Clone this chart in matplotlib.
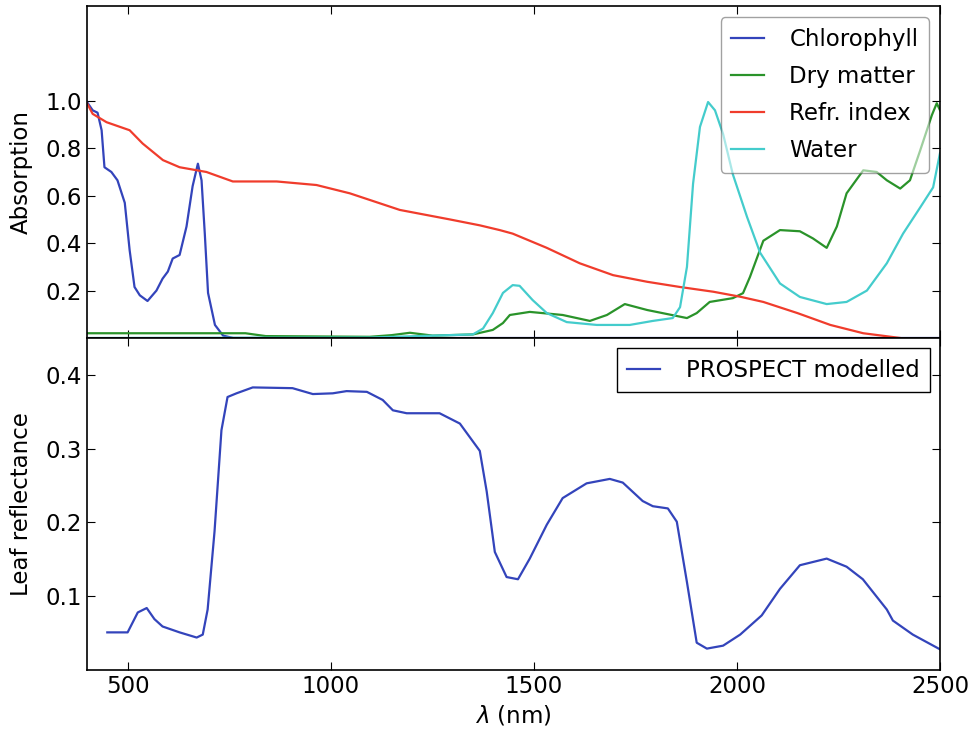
import matplotlib
matplotlib.use("Agg")
import matplotlib.pyplot as plt

# data
chl_x = [400, 414, 426, 436, 443, 460, 475, 493, 505, 517, 530, 549, 571, 586, 599, 611, 628, 645,
         660, 673, 682, 690, 698, 715, 735, 760, 2500]
chl_y = [0.995, 0.96, 0.95, 0.876, 0.72, 0.70, 0.665, 0.57, 0.37, 0.215, 0.18, 0.156, 0.20, 0.25,
         0.28, 0.335, 0.35, 0.47, 0.64, 0.735, 0.665, 0.44, 0.19, 0.055, 0.01, 0.0, 0.0]

dry_x = [400, 790, 840, 1096, 1150, 1195, 1251, 1350, 1399, 1424, 1441, 1490, 1571, 1638, 1680, 1724,
         1779, 1828, 1877, 1901, 1933, 1990, 2015, 2032, 2065, 2106, 2155, 2187, 2221, 2246, 2270,
         2311, 2344, 2369, 2402, 2426, 2451, 2480, 2492, 2500]
dry_y = [0.02, 0.02, 0.008, 0.005, 0.012, 0.022, 0.01, 0.015, 0.034, 0.063, 0.097, 0.11, 0.097,
         0.072, 0.097, 0.143, 0.118, 0.101, 0.084, 0.105, 0.152, 0.168, 0.189, 0.257, 0.41, 0.455,
         0.45, 0.42, 0.38, 0.47, 0.61, 0.707, 0.70, 0.665, 0.63, 0.665, 0.79, 0.94, 0.99, 0.96]

refr_x = [400, 414, 448, 505, 537, 587, 628, 694, 759, 867, 965, 1047, 1170, 1293, 1367, 1416, 1448,
          1532, 1613, 1695, 1779, 1860, 1942, 2008, 2065, 2149, 2230, 2311, 2402, 2450, 2500]
refr_y = [0.99, 0.945, 0.91, 0.876, 0.82, 0.75, 0.72, 0.70, 0.66, 0.66, 0.645, 0.61, 0.54, 0.50,
          0.475, 0.455, 0.44, 0.38, 0.315, 0.265, 0.237, 0.215, 0.195, 0.174, 0.152, 0.105, 0.055,
          0.02, 0.0, -0.015, -0.03]

wat_x = [400, 1100, 1350, 1375, 1399, 1424, 1448, 1465, 1497, 1532, 1581, 1655, 1736, 1793, 1842,
         1860, 1877, 1892, 1909, 1929, 1946, 1966, 1990, 2025, 2057, 2106, 2155, 2221, 2270, 2320,
         2369, 2409, 2451, 2483, 2500]
wat_y = [0.0, 0.002, 0.015, 0.04, 0.105, 0.19, 0.223, 0.22, 0.16, 0.105, 0.067, 0.055, 0.055, 0.072,
         0.084, 0.13, 0.30, 0.65, 0.89, 0.995, 0.96, 0.86, 0.69, 0.51, 0.36, 0.23, 0.173, 0.143,
         0.152, 0.20, 0.315, 0.44, 0.55, 0.635, 0.78]

refl_x = [450, 500, 525, 547, 566, 586, 628, 670, 685, 697, 714, 731, 746, 768, 808, 906, 956, 1005,
          1039, 1089, 1128, 1153, 1187, 1268, 1318, 1367, 1384, 1404, 1433, 1461, 1490, 1532, 1571,
          1630, 1687, 1719, 1768, 1793, 1830, 1852, 1877, 1901, 1926, 1966, 2008, 2061, 2106, 2155,
          2221, 2270, 2310, 2369, 2384, 2433, 2500]
refl_y = [0.051, 0.051, 0.078, 0.084, 0.069, 0.059, 0.051, 0.044, 0.048, 0.082, 0.188, 0.325, 0.37,
          0.375, 0.383, 0.382, 0.374, 0.375, 0.378, 0.377, 0.366, 0.352, 0.348, 0.348, 0.334, 0.297,
          0.242, 0.16, 0.126, 0.123, 0.151, 0.197, 0.233, 0.253, 0.259, 0.254, 0.229, 0.222, 0.219,
          0.201, 0.119, 0.037, 0.029, 0.033, 0.048, 0.074, 0.110, 0.142, 0.151, 0.140, 0.123, 0.082,
          0.067, 0.048, 0.028]

plt.rcParams['font.size'] = 16.5
plt.rcParams['xtick.direction'] = 'in'
plt.rcParams['ytick.direction'] = 'in'
plt.rcParams['xtick.top'] = True
plt.rcParams['ytick.right'] = True
plt.rcParams['xtick.major.size'] = 6
plt.rcParams['ytick.major.size'] = 6

fig = plt.figure(figsize=(9.72, 7.37), dpi=100)
ax1 = fig.add_axes([0.0895, 0.5414, 0.8776, 0.4505])
ax2 = fig.add_axes([0.0895, 0.0909, 0.8776, 0.4505], sharex=ax1)

lw = 1.6
ax1.plot(chl_x, chl_y, color='#3344bb', lw=lw, label='Chlorophyll')
ax1.plot(dry_x, dry_y, color='#2a932a', lw=lw, label='Dry matter')
ax1.plot(refr_x, refr_y, color='#f03c2c', lw=lw, label='Refr. index')
ax1.plot(wat_x, wat_y, color='#44cccc', lw=lw, label='Water')
ax1.set_xlim(400, 2500)
ax1.set_ylim(0, 1.4)
ax1.set_yticks([0.2, 0.4, 0.6, 0.8, 1.0])
ax1.set_ylabel('Absorption', labelpad=9)
ax1.tick_params(labelbottom=False)
leg1 = ax1.legend(loc='upper right', fancybox=True, framealpha=0.55, handlelength=1.45,
                  handletextpad=1.1, borderpad=0.45, labelspacing=0.62, borderaxespad=0.5)
leg1.get_frame().set_edgecolor('#555555')

ax2.plot(refl_x, refl_y, color='#3344bb', lw=lw, label='PROSPECT modelled')
ax2.set_ylim(0, 0.45)
ax2.set_yticks([0.1, 0.2, 0.3, 0.4])
ax2.set_xticks([500, 1000, 1500, 2000, 2500])
ax2.set_ylabel('Leaf reflectance', labelpad=9)
ax2.set_xlabel(r'$\lambda$ (nm)')
leg2 = ax2.legend(loc='upper right', fancybox=False, framealpha=1, handlelength=1.45,
                  handletextpad=1.1, borderpad=0.45, borderaxespad=0.45)
leg2.get_frame().set_edgecolor('black')

for ax in (ax1, ax2):
    for s in ax.spines.values():
        s.set_linewidth(1.2)

fig.savefig('out.png', dpi=100, facecolor='white')
